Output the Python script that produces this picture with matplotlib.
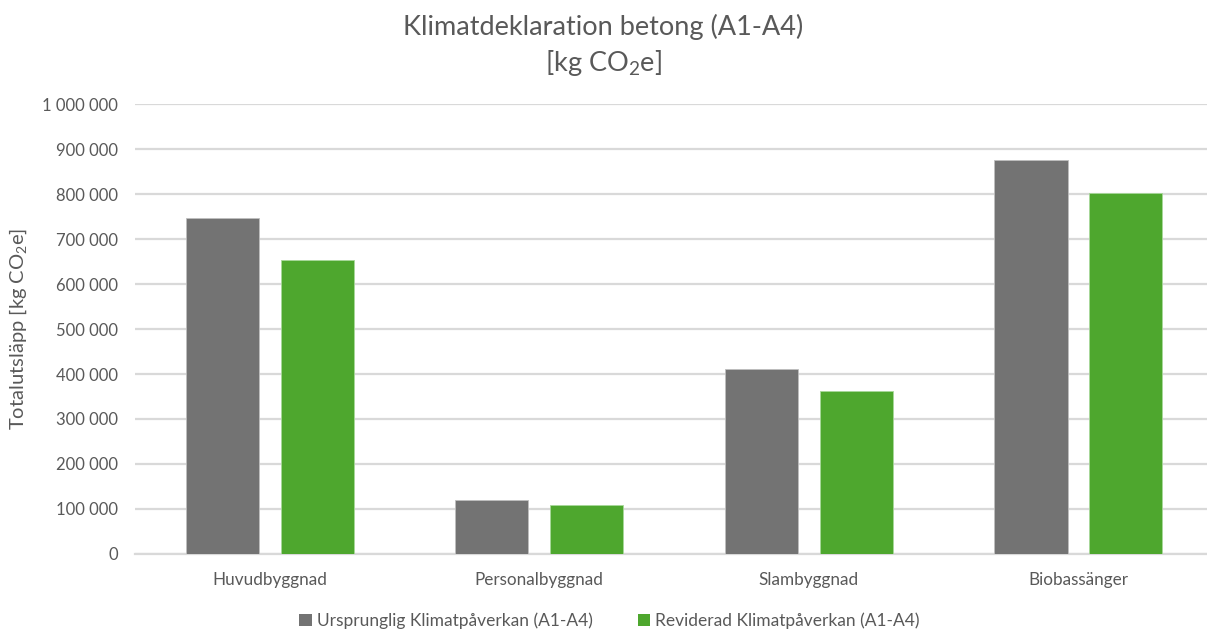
import matplotlib
matplotlib.use("Agg")
import matplotlib.pyplot as plt
import numpy as np
from matplotlib.ticker import FuncFormatter
from matplotlib.patches import Patch

plt.rcParams['font.family'] = ['Lato', 'DejaVu Sans']
plt.rcParams['mathtext.fontset'] = 'custom'
plt.rcParams['mathtext.rm'] = 'Lato'
plt.rcParams['mathtext.it'] = 'Lato'
plt.rcParams['mathtext.default'] = 'regular'

categories = ["Huvudbyggnad", "Personalbyggnad", "Slambyggnad", "Biobassänger"]
ursprunglig = [748000, 119000, 412000, 877000]
reviderad = [653000, 108000, 363000, 804000]
series_names = ["Ursprunglig Klimatpåverkan (A1-A4)", "Reviderad Klimatpåverkan (A1-A4)"]

grey = "#737373"
green = "#4ea72e"
text_col = "#595959"
grid_col = "#d9d9d9"

fig = plt.figure(figsize=(12.07, 6.32), dpi=100)
ax = fig.add_axes([0.1118, 0.1239, 0.8882, 0.7108])

x = np.arange(len(categories))
w = 0.271
off = 0.176
ax.bar(x - off, ursprunglig, w, color=grey, edgecolor="#bfbfbf", linewidth=0.6, zorder=3)
ax.bar(x + off, reviderad, w, color=green, edgecolor="#a8d89a", linewidth=0.6, zorder=3)

ax.set_xlim(-0.5, 3.477)
ax.set_ylim(0, 1000000)
ax.set_yticks(np.arange(0, 1000001, 100000))
ax.yaxis.set_major_formatter(FuncFormatter(lambda v, p: f"{int(v):,}".replace(",", " ")))
ax.set_xticks(x)
ax.set_xticklabels(categories)

ax.grid(axis="y", color=grid_col, linewidth=1.6, zorder=0)
for s in ["top", "right", "left"]:
    ax.spines[s].set_visible(False)
ax.spines["bottom"].set_color(grid_col)
ax.spines["bottom"].set_linewidth(1.6)
ax.tick_params(axis="both", length=0, colors=text_col)
ax.tick_params(axis="y", pad=12, labelsize=12)
ax.tick_params(axis="x", pad=13, labelsize=12.3)

ax.set_ylabel("Totalutsläpp [kg CO$_2$e]", color=text_col, fontsize=14.5, labelpad=10)

fig.text(0.5, 0.957, "Klimatdeklaration betong (A1-A4)", ha="center", va="center",
         color=text_col, fontsize=19.5)
fig.text(0.5, 0.900, "[kg CO$_2$e]", ha="center", va="center",
         color=text_col, fontsize=19.5)

handles = [Patch(facecolor=grey), Patch(facecolor=green)]
fig.legend(handles, series_names, loc="center", bbox_to_anchor=(0.505, 0.018),
           ncol=2, frameon=False, fontsize=12.5, labelcolor=text_col,
           handlelength=0.7, handleheight=0.7, handletextpad=0.3, columnspacing=2.6)

fig.savefig("out.png", dpi=100, facecolor="white")
